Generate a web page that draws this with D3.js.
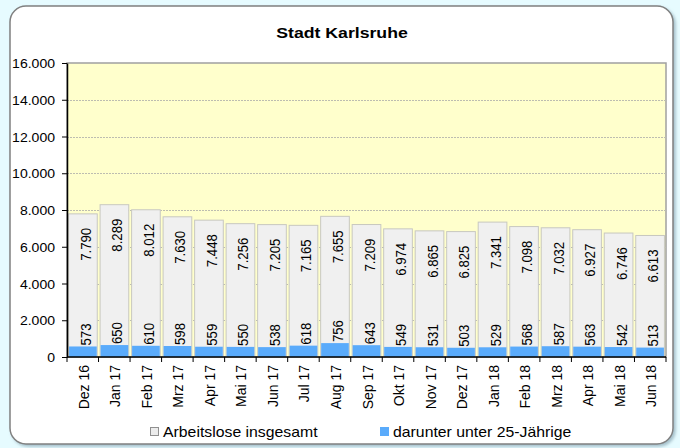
<!DOCTYPE html>
<html><head><meta charset="utf-8">
<script src="https://cdn.jsdelivr.net/npm/d3@7"></script>
<style>
html,body{margin:0;padding:0;background:#e6fbff;}
svg{display:block;font-family:Arial,"Liberation Sans",sans-serif;}
</style></head>
<body>
<svg id="c" width="680" height="448"></svg>
<script>
const months = ["Dez 16","Jan 17","Feb 17","Mrz 17","Apr 17","Mai 17","Jun 17","Jul 17","Aug 17","Sep 17","Okt 17","Nov 17","Dez 17","Jan 18","Feb 18","Mrz 18","Apr 18","Mai 18","Jun 18"];
const totalUnemployed = [7790,8289,8012,7630,7448,7256,7205,7165,7655,7209,6974,6865,6825,7341,7098,7032,6927,6746,6613];
const under25 = [573,650,610,598,559,550,538,618,756,643,549,531,503,529,568,587,563,542,513];
const yTicks = [0,2000,4000,6000,8000,10000,12000,14000,16000];
const seriesNames = ["Arbeitslose insgesamt","darunter unter 25-Jährige"];
const title = "Stadt Karlsruhe";

const de = d3.formatLocale({decimal:",",thousands:".",grouping:[3],currency:["","€"]});
const fmt = de.format(",.0f");

const svg = d3.select("#c");
const defs = svg.append("defs");
const f = defs.append("filter").attr("id","sh").attr("x","-5%").attr("y","-5%").attr("width","110%").attr("height","110%");
f.append("feDropShadow").attr("dx",2).attr("dy",2).attr("stdDeviation",1.5).attr("flood-color","#7a9aa8").attr("flood-opacity",0.6);

svg.append("rect").attr("x",10).attr("y",6).attr("width",663).attr("height",438).attr("rx",16).attr("ry",16)
  .attr("fill","#fff").attr("stroke","#808080").attr("stroke-width",1.5).attr("filter","url(#sh)");

svg.append("text").attr("transform","translate(342,38) scale(1.14,1)").attr("text-anchor","middle").attr("font-weight","bold")
  .attr("font-size",15.5).attr("fill","#000").text(title);

const L=67,R=666,T=63,B=357;
const x = d3.scaleBand().domain(months).range([L,R]).paddingInner(0.09).paddingOuter(0.05);
const y = d3.scaleLinear().domain([0,16000]).range([B,T]);

svg.append("rect").attr("x",L).attr("y",T).attr("width",R-L).attr("height",B-T)
  .attr("fill","#ffffcc").attr("stroke","#a0a0a0").attr("stroke-width",1.5);

svg.append("g").selectAll("line").data(yTicks.filter(d=>d>0&&d<16000)).join("line")
  .attr("x1",L).attr("x2",R).attr("y1",d=>Math.round(y(d))+0.5).attr("y2",d=>Math.round(y(d))+0.5)
  .attr("stroke","#bdbdb0").attr("stroke-dasharray","2,1");

const g = svg.append("g");
g.selectAll("rect.t").data(totalUnemployed).join("rect").attr("class","t")
  .attr("x",(d,i)=>x(months[i])).attr("width",x.bandwidth())
  .attr("y",d=>y(d)).attr("height",d=>B-y(d))
  .attr("fill","#f0f0f0").attr("stroke","#c8c8c0").attr("stroke-width",1);
g.selectAll("rect.u").data(under25).join("rect").attr("class","u")
  .attr("x",(d,i)=>x(months[i])+0.5).attr("width",x.bandwidth()-1)
  .attr("y",d=>y(d)).attr("height",d=>B-y(d))
  .attr("fill","#5aabfb");

const fs=13.2;
g.selectAll("text.t").data(totalUnemployed).join("text").attr("class","t")
  .attr("transform",(d,i)=>`translate(${x(months[i])+x.bandwidth()/2+8},${y(d)+14}) scale(1.08,1) rotate(-90)`)
  .attr("text-anchor","end").attr("font-size",fs).attr("fill","#000").text(d=>fmt(d));
g.selectAll("text.u").data(under25).join("text").attr("class","u")
  .attr("transform",(d,i)=>`translate(${x(months[i])+x.bandwidth()/2+8},${y(d)-1}) scale(1.08,1) rotate(-90)`)
  .attr("text-anchor","start").attr("font-size",fs).attr("fill","#000").text(d=>fmt(d));

// y axis
const ya = svg.append("g").attr("transform",`translate(${L},0)`)
  .call(d3.axisLeft(y).tickValues(yTicks).tickFormat(fmt).tickSize(5).tickSizeOuter(0));
ya.select(".domain").attr("stroke","#000").attr("stroke-width",1.5);
ya.selectAll(".tick line").attr("stroke","#000");
ya.selectAll(".tick text").attr("font-size",13).attr("fill","#000").attr("font-family","Arial,'Liberation Sans',sans-serif")
  .attr("x",0).attr("dy","0.36em").attr("transform","translate(-12,0) scale(1.08,1)");

// x axis
const xa = svg.append("g").attr("transform",`translate(0,${B})`);
xa.append("line").attr("x1",L).attr("x2",R).attr("y1",0).attr("y2",0).attr("stroke","#000").attr("stroke-width",1.5);
const bounds = d3.range(months.length+1).map(i=>L+(R-L)*i/months.length);
xa.selectAll("line.tk").data(bounds).join("line").attr("class","tk")
  .attr("x1",d=>d).attr("x2",d=>d).attr("y1",0).attr("y2",5).attr("stroke","#000");
xa.selectAll("text").data(months).join("text")
  .attr("transform",d=>`translate(${x(d)+x.bandwidth()/2+6},8) scale(1.08,1) rotate(-90)`)
  .attr("text-anchor","end").attr("font-size",14).attr("fill","#000").text(d=>d);

// legend
const lg = svg.append("g");
const items=[{n:seriesNames[0],c:"#ececec",s:"#909090",x:150},{n:seriesNames[1],c:"#5aabfb",s:"#5aabfb",x:380}];
items.forEach(it=>{
  lg.append("rect").attr("x",it.x+0.5).attr("y",427.5).attr("width",8).attr("height",8).attr("fill",it.c).attr("stroke",it.s);
  lg.append("text").attr("transform",`translate(${it.x+13},437) scale(1.13,1)`).attr("font-size",14).attr("fill","#000").text(it.n);
});
</script>
</body></html>
